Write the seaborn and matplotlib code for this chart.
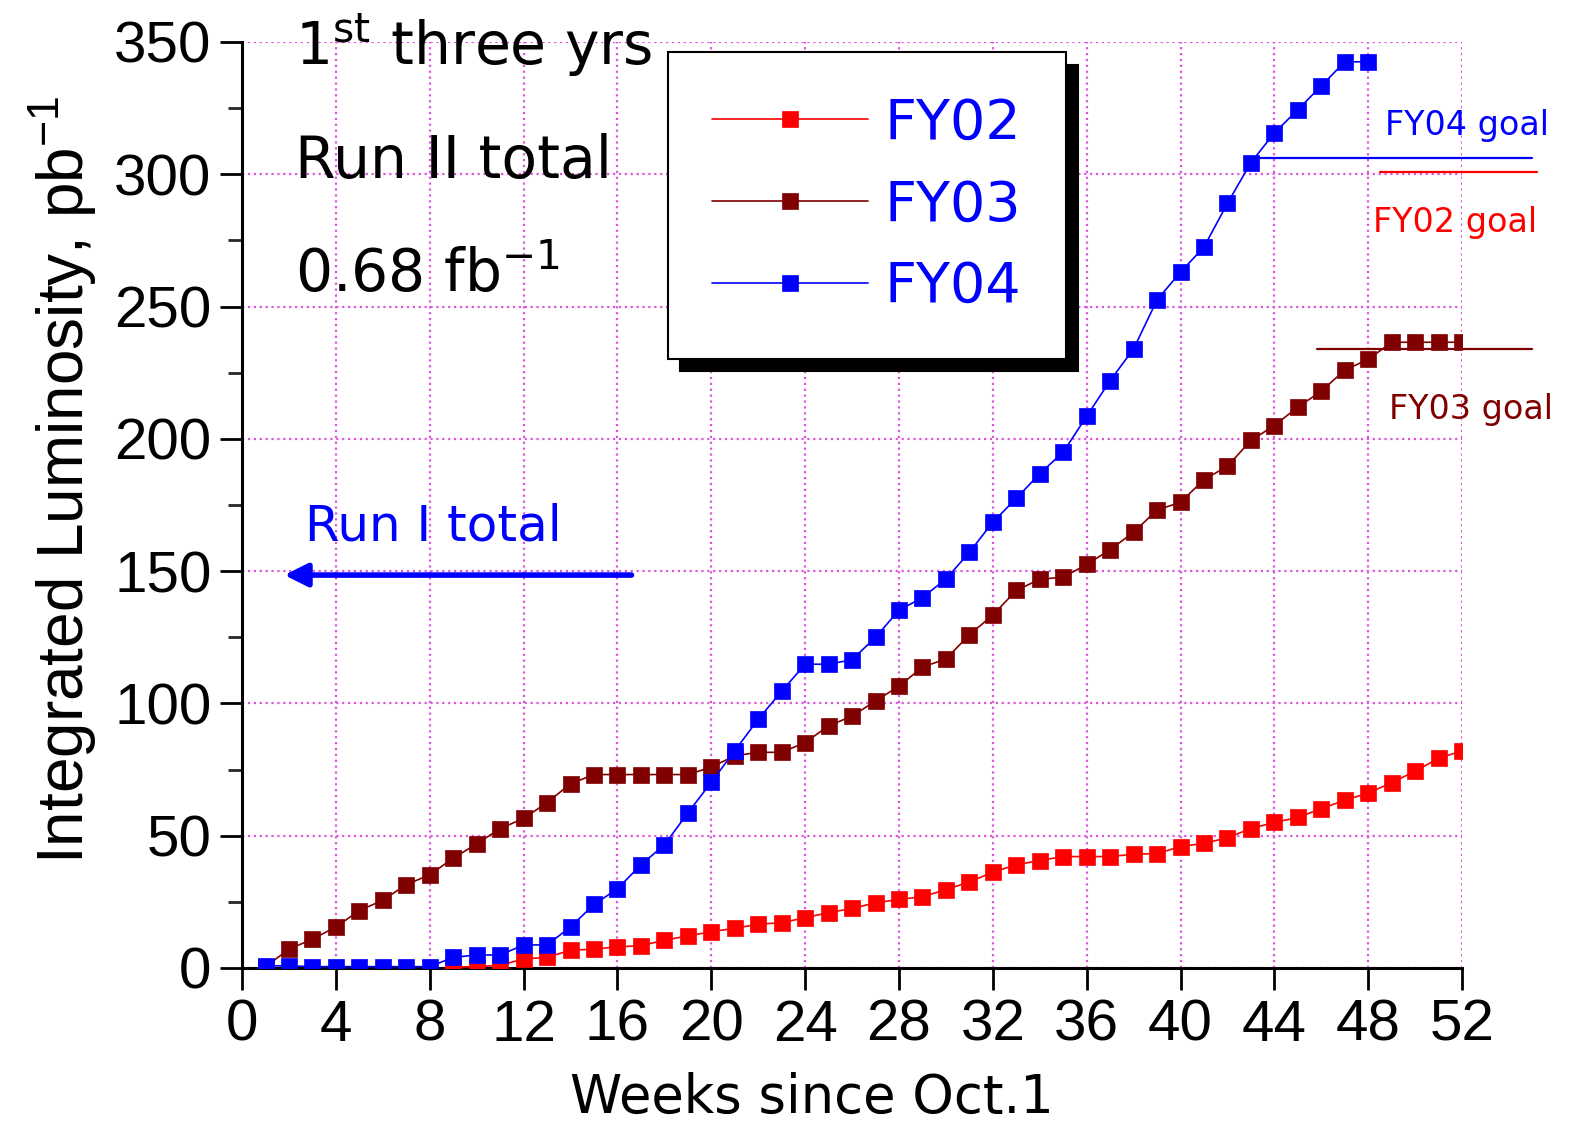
import numpy as np
import pandas as pd
import matplotlib
matplotlib.use("Agg")
import matplotlib.pyplot as plt
import seaborn as sns

# Data (integrated luminosity, pb^-1)
weeks_fy02 = list(range(9, 53))
lumi_fy02 = [0.3, 0.5, 1.0, 3.4, 4.0, 6.7, 7.1, 8.0, 8.4, 10.5,
             12.1, 13.7, 15.0, 16.5, 17.1, 19.0, 20.9, 22.5, 24.6, 25.9,
             26.9, 29.6, 32.5, 36.2, 39.0, 40.6, 42.1, 42.1, 42.1, 43.0,
             43.2, 45.9, 47.1, 49.2, 52.7, 55.0, 56.9, 60.2, 63.4, 66.1,
             70.0, 74.4, 79.2, 82.1]

weeks_fy03 = list(range(1, 53))
lumi_fy03 = [0.5, 7.1, 10.9, 15.5, 21.7, 25.6, 31.5, 35.2, 41.5, 46.9,
             52.7, 56.5, 62.5, 69.6, 73.1, 73.1, 73.1, 73.1, 73.1, 75.9,
             80.2, 81.5, 81.5, 85.2, 91.5, 95.2, 100.9, 106.5, 113.7, 116.8,
             125.9, 133.4, 142.7, 146.9, 147.7, 152.5, 158.1, 164.7, 173.1, 176.0,
             184.6, 189.6, 199.4, 205.0, 212.0, 218.0, 226.0, 230.0, 236.5, 236.5,
             236.5, 236.5]

weeks_fy04 = list(range(1, 49))
lumi_fy04 = [0.8, 0.8, 0.5, 0.5, 0.5, 0.5, 0.5, 0.5, 4.0, 4.9,
             4.9, 8.7, 8.7, 15.5, 24.0, 29.9, 39.0, 46.5, 58.6, 70.2,
             82.1, 94.0, 104.6, 114.8, 114.8, 116.5, 125.0, 135.2, 140.0, 147.0,
             157.1, 168.5, 177.5, 186.8, 195.0, 208.5, 222.0, 234.0, 252.5, 263.0,
             272.5, 289.0, 304.4, 315.6, 324.4, 333.4, 342.5, 342.5]

series_names = ["FY02", "FY03", "FY04"]
series_colors = ["#FF0000", "#800000", "#0000FF"]

# goals: (value, x start, x end)
goal_fy02 = [301.0, 48.5, 55.2]
goal_fy03 = [234.0, 45.8, 55.0]
goal_fy04 = [306.2, 43.4, 55.0]

run1_total = 148.5

sns.set_theme(style="white")
plt.rcParams["font.family"] = ["Liberation Sans", "DejaVu Sans"]
plt.rcParams["mathtext.fontset"] = "custom"
plt.rcParams["mathtext.rm"] = "Liberation Sans"
plt.rcParams["mathtext.it"] = "Liberation Sans:italic"
comic = ["DejaVu Sans"]

fig = plt.figure(figsize=(15.76, 11.25), dpi=100)
ax = fig.add_axes([0.1536, 0.1396, 0.7741, 0.8231])

df = pd.concat([
    pd.DataFrame({"week": weeks_fy02, "lumi": lumi_fy02, "year": "FY02"}),
    pd.DataFrame({"week": weeks_fy03, "lumi": lumi_fy03, "year": "FY03"}),
    pd.DataFrame({"week": weeks_fy04, "lumi": lumi_fy04, "year": "FY04"}),
])

for name, col in zip(series_names, series_colors):
    sub = df[df["year"] == name]
    sns.lineplot(data=sub, x="week", y="lumi", ax=ax, color=col, lw=1.2,
                 marker="s", markersize=12, markeredgecolor=col,
                 markeredgewidth=0.5, label=name, zorder=3)

# goal lines run past the right edge of the axes
for g, col in zip([goal_fy02, goal_fy03, goal_fy04], series_colors):
    ax.plot([g[1], g[2]], [g[0], g[0]], color=col, lw=1.6, clip_on=False, zorder=2)

ax.text(52.2, 318.6, "FY04 goal", color="#0000FF", fontsize=24, family=comic,
        ha="center", va="center")
ax.text(51.7, 281.9, "FY02 goal", color="#FF0000", fontsize=24, family=comic,
        ha="center", va="center")
ax.text(52.4, 210.9, "FY03 goal", color="#800000", fontsize=24, family=comic,
        ha="center", va="center")

# Run I arrow
ax.annotate("", xy=(1.8, run1_total), xytext=(16.6, run1_total),
            arrowprops=dict(arrowstyle="-|>", color="#0000FF", lw=4,
                            mutation_scale=35, shrinkA=0, shrinkB=0))
ax.text(2.7, 161.5, "Run I total", color="#0000FF", fontsize=36, family=comic,
        ha="left", va="baseline")

ax.text(2.26, 341.3, "1$^{\\rm st}$ three yrs", fontsize=42, family=comic,
        math_fontfamily="dejavusans", ha="left", va="baseline", color="black")
ax.text(2.26, 298.5, "Run II total", fontsize=42, family=comic,
        ha="left", va="baseline", color="black")
ax.text(2.26, 255.5, "0.68 fb$^{-1}$", fontsize=42, family=comic,
        math_fontfamily="dejavusans", ha="left", va="baseline", color="black")

ax.set_xlim(0, 52)
ax.set_ylim(0, 350)
ax.set_xticks(range(0, 53, 4))
ax.set_yticks(range(0, 351, 50))
ax.set_yticks(range(25, 350, 50), minor=True)
ax.tick_params(axis="both", which="major", direction="out", length=16, width=2,
               labelsize=42, pad=6, color="black", labelcolor="black",
               left=True, bottom=True)
ax.tick_params(axis="y", which="minor", direction="out", length=10, width=2,
               left=True)
ax.grid(True, which="major", color="#DD55DD", ls=":", lw=1.6)

for side in ["top", "right"]:
    ax.spines[side].set_visible(False)
for side in ["left", "bottom"]:
    ax.spines[side].set_color("black")
    ax.spines[side].set_linewidth(2.2)

ax.set_xlabel("Weeks since Oct.1", fontsize=38, family=comic, color="black")
ax.xaxis.set_label_coords(0.467, -0.112)
ax.set_ylabel("Integrated Luminosity, pb$^{-1}$", fontsize=46, color="black")
ax.yaxis.set_label_coords(-0.117, 0.527)

leg = ax.legend(loc="upper left", bbox_to_anchor=(0.349, 0.989), borderaxespad=0,
                prop={"family": comic, "size": 40}, labelcolor="#0000FF",
                frameon=True, fancybox=False, framealpha=1, edgecolor="black",
                shadow={"color": "black", "alpha": 1, "ox": 9, "oy": -9},
                handlelength=2.8, handletextpad=0.3, borderpad=0.8,
                labelspacing=0.5)
leg.get_frame().set_linewidth(1.5)
leg.set_zorder(5)

fig.savefig("out.png", dpi=100)
